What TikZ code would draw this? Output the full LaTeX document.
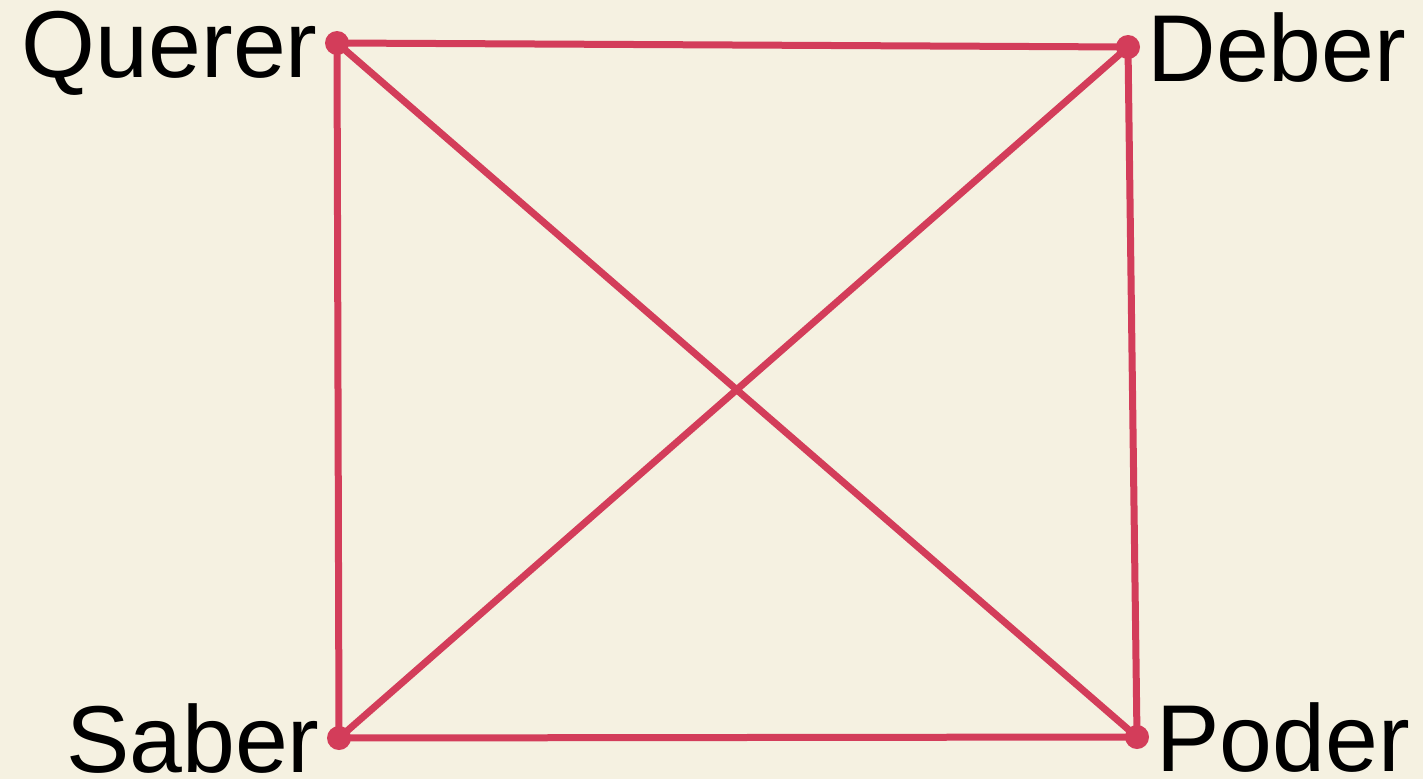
\documentclass[tikz,border=0pt]{standalone}
\usepackage{fontspec}
\setmainfont{Liberation Sans}
\definecolor{bgcream}{HTML}{F5F1E1}
\definecolor{edgered}{HTML}{D33D5A}

\begin{document}
\begin{tikzpicture}[x=1pt, y=-1pt,
    % Define the styles for the edges, the dots and the labels
    edge/.style={draw=edgered, line width=7pt, line cap=round},
    dot/.style={circle, fill=edgered, inner sep=0pt, minimum size=24pt},
    word/.style={font=\fontsize{95}{95}\selectfont, inner sep=0pt,
        text height=68pt, text depth=0pt, label distance=7pt}
]

% Background and margins
\fill[bgcream] (0,0) rectangle (1423,779);
\useasboundingbox (0,0) rectangle (1423,779);

% Define the points of the square
\coordinate (Q) at (337,43);
\coordinate (D) at (1128,47);
\coordinate (S) at (339,738);
\coordinate (P) at (1137,737);

% Draw the sides and the diagonals
\draw[edge] (Q) -- (D);
\draw[edge] (D) -- (P);
\draw[edge] (P) -- (S);
\draw[edge] (S) -- (Q);
\draw[edge] (Q) -- (P);
\draw[edge] (D) -- (S);

% Add the dots and their labels
\node[dot, label={[word]left:Querer}] (q) at (Q) {};
\node[dot, label={[word]right:Deber}] (d) at (D) {};
\node[dot, label={[word]left:Saber}] (s) at (S) {};
\node[dot, label={[word]right:Poder}] (p) at (P) {};

\end{tikzpicture}
\end{document}
